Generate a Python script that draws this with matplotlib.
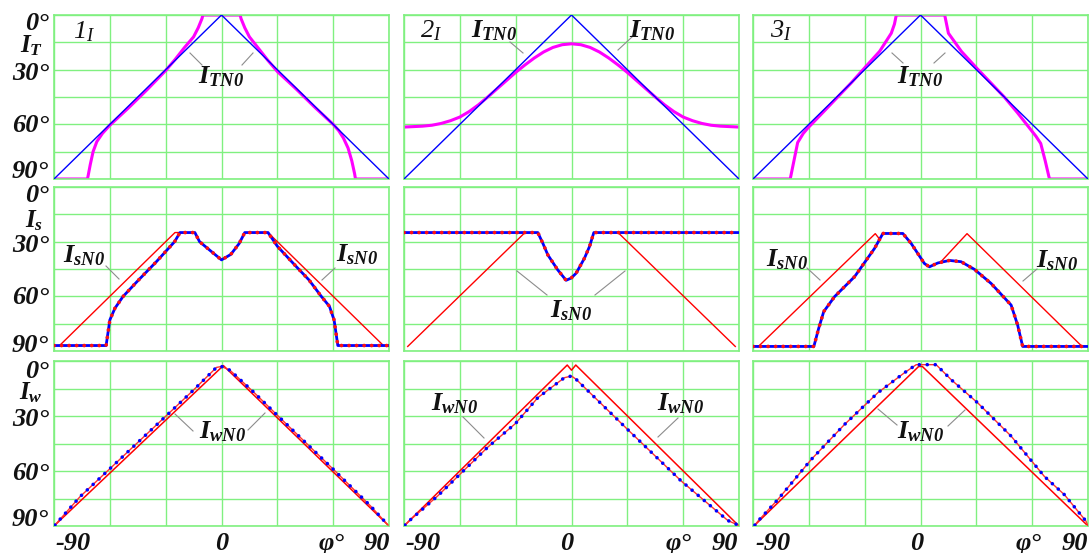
import numpy as np
import matplotlib
matplotlib.use("Agg")
import matplotlib.pyplot as plt
from matplotlib.lines import Line2D

plt.rcParams['mathtext.fontset'] = 'custom'
plt.rcParams['mathtext.it'] = 'Liberation Serif:italic:bold'
plt.rcParams['mathtext.rm'] = 'Liberation Serif:italic:bold'
plt.rcParams['mathtext.bf'] = 'Liberation Serif:italic:bold'
plt.rcParams['mathtext.sf'] = 'Liberation Serif:italic'

# ---- data (phi in degrees, angle in degrees, 0 at top) ----
# row 1: I_T
itn0_x = [-90, 0, 90]
itn0_y = [90, 0, 90]

it1_x = [-90, -72, -70.5, -69, -67, -64, -60, -50, -40, -30, -25, -20, -15, -12.5, -10.5, -10,
         10, 10.5, 12.5, 15, 20, 25, 30, 40, 50, 60, 63, 65.5, 68, 70, 71.5, 72, 90]
it1_y = [90, 90, 82, 75, 69.5, 65, 60.5, 51, 41, 30.5, 24.5, 18, 12, 7, 2, 0,
         0, 2, 7, 12, 18.5, 25, 31, 40.5, 50.5, 60, 63.5, 67.5, 73, 80, 87, 90, 90]

it2_x = [-90, -80, -75, -70, -65, -60, -55, -50, -45, -40, -35, -30, -25, -20, -15, -10, -5, 0,
         5, 10, 15, 20, 25, 30, 35, 40, 45, 50, 55, 60, 65, 70, 75, 80, 90]
it2_y = [61.5, 61, 60.5, 59.5, 58, 56, 53, 49.3, 45, 40.5, 36, 31.5, 27.4, 23.6, 20.3, 17.8, 16.3, 15.8,
         16.3, 17.8, 20.3, 23.6, 27.4, 31.5, 36, 40.5, 45, 49.3, 53, 56, 58, 59.5, 60.5, 61, 61.5]

it3_x = [-90, -70, -68, -66, -63, -60.5, -52, -44.5, -37, -30, -22, -15.7, -14, -13,
         13, 14, 15, 22, 30.5, 38, 45, 52, 59.3, 62, 64.6, 67, 69.3, 90]
it3_y = [90, 90, 80, 70, 65, 62, 53, 45, 37, 29, 20, 10, 5, 0,
         0, 5, 10, 20, 29.5, 37.5, 45, 53.5, 63, 66.5, 70.5, 80, 90, 90]

# row 2: I_s
is1_x = [-90, -62, -60, -57.3, -53, -45, -35, -25.2, -22.3, -14.3, -11.8, -6.4, 0, 5, 9.5, 12.5,
         25, 30, 40, 47, 53.6, 58, 60.5, 62.5, 90]
is1_y = [87, 87, 73, 66.6, 60.2, 51.5, 41, 30, 25, 25, 30, 34.6, 40, 37, 31, 25,
         25, 32.5, 43.5, 51, 60, 65.5, 73, 87, 87]
isn0_1_x = [-87, -25, -22.3, np.nan, 25, 87]
isn0_1_y = [87, 25, 25, np.nan, 25, 87]

is2_x = [-90, -18.1, -15.4, -12.7, -7.4, -2.9, -0.2, 2.5, 7, 9.7, 12, 90]
is2_y = [25, 25, 30.9, 37.3, 45.5, 51.2, 50, 47.3, 39, 32.6, 25, 25]
isn0_2_x = [-88, -25, np.nan, 25, 88]
isn0_2_y = [87.5, 25, np.nan, 25, 87.5]

is3_x = [-90, -57.3, -54.8, -52, -46.2, -35.4, -24.7, -20.2, -9.5, -5, 2.1, 4.8, 9.3, 15.6,
         21.8, 29, 37.9, 48.7, 52.2, 54.9, 90]
is3_y = [87.5, 87.5, 77.9, 68.4, 60.2, 49.2, 33.7, 25.5, 25.5, 31, 42, 43.8, 41.7, 40.3,
         41, 45.2, 52.9, 64.8, 75.8, 87.5, 87.5]
isn0_3_x = [-87.3, -24.3, -22, np.nan, 11, 25, 87]
isn0_3_y = [87.7, 25.6, 28.6, np.nan, 41, 25.6, 87.7]

# row 3: I_w
iw1_x = [-89.5, -76, -61.6, -43.8, -29.5, -15.2, -2.7, 0, 4.5, 17, 30.4, 45, 59.8, 73, 80, 89.5]
iw1_y = [89.5, 74, 60.3, 43.3, 29.7, 16, 3.5, 3, 5, 16.7, 30, 44.3, 58.8, 72, 79, 89.5]
iwn0_1_x = [-90, 1, 90]
iwn0_1_y = [90, 2.5, 90]

iw2_x = [-89.5, -87, -71.9, -45, -30, -18.1, -3.8, 0, 2.5, 30.3, 59, 84, 89.5]
iw2_y = [89.5, 87, 73.6, 47, 34, 20, 9.1, 8.2, 10, 37.5, 65.5, 87, 89.5]
iwn0_2_x = [-90, -2.3, 0, 2.3, 90]
iwn0_2_y = [90, 2.2, 5, 2.2, 90]

iw3_x = [-89, -87.3, -76.6, -58.7, -40.8, -22.9, -8.6, -2.3, 8.4, 16.5, 30.8, 48.7, 66.5, 77.3, 88.9, 90]
iw3_y = [89.5, 87.3, 75.5, 53.7, 34.6, 17.3, 6.4, 2, 2, 10.2, 22.9, 41, 62.9, 72.9, 87.3, 90]
iwn0_3_x = [-89, -1, 1, 90]
iwn0_3_y = [89.5, 3, 3, 90]

y_labels = ['0°', '30°', '60°', '90°']
x_labels = ['-90', '0', 'φ°', '90']
panel_names = ['1', '2', '3']
row_names = ['T', 's', 'w']

# ---- layout ----
W, H = 1089, 553
fig = plt.figure(figsize=(W / 100, H / 100), dpi=100)
fig.patch.set_facecolor('white')

col_left = [54, 404, 753]
col_w = 335
row_top = [15, 187, 361]
row_h = [164, 164, 165]
GRID = '#80f080'
BF = dict(family='Liberation Serif', weight='bold', style='italic', color='#111111')


def fx(x):
    return x / W


def fy(y):
    return 1 - y / H


def leader(x1, y1, x2, y2):
    fig.add_artist(Line2D([fx(x1), fx(x2)], [fy(y1), fy(y2)], transform=fig.transFigure,
                          color='#8c8c8c', lw=0.8))


axes = [[None] * 3 for _ in range(3)]
for r in range(3):
    for c in range(3):
        ax = fig.add_axes([fx(col_left[c]), fy(row_top[r] + row_h[r]), col_w / W, row_h[r] / H])
        ax.set_xlim(-90, 90)
        ax.set_ylim(90, 0)
        ax.set_xticks(np.arange(-90, 91, 30))
        ax.set_yticks(np.arange(0, 91, 15))
        ax.tick_params(length=0, labelbottom=False, labelleft=False)
        ax.grid(True, color=GRID, lw=1.0)
        ax.set_axisbelow(True)
        for sp in ax.spines.values():
            sp.set_color(GRID)
            sp.set_linewidth(1.2)
        axes[r][c] = ax

# row 1
for ax, (xs, ys) in zip(axes[0], [(it1_x, it1_y), (it2_x, it2_y), (it3_x, it3_y)]):
    ax.plot(itn0_x, itn0_y, color='#0000ff', lw=1.0, zorder=3)
    ax.plot(xs, ys, color='#ff00ff', lw=2.2, zorder=2)

# row 2: thick blue line with red dots on it
for ax, (xs, ys, nx, ny) in zip(axes[1], [(is1_x, is1_y, isn0_1_x, isn0_1_y),
                                          (is2_x, is2_y, isn0_2_x, isn0_2_y),
                                          (is3_x, is3_y, isn0_3_x, isn0_3_y)]):
    ax.plot(nx, ny, color='#ff0000', lw=1.0, zorder=2)
    ax.plot(xs, ys, color='#0000ff', lw=2.0, zorder=3)
    ax.plot(xs, ys, color='#ff1010', lw=2.7, zorder=4, linestyle=(0, (0.01, 2.0)),
            dash_capstyle='round')

# row 3: thin red line with blue dots on it
for ax, (xs, ys, nx, ny) in zip(axes[2], [(iw1_x, iw1_y, iwn0_1_x, iwn0_1_y),
                                          (iw2_x, iw2_y, iwn0_2_x, iwn0_2_y),
                                          (iw3_x, iw3_y, iwn0_3_x, iwn0_3_y)]):
    ax.plot(nx, ny, color='#ff0000', lw=1.1, zorder=2)
    ax.plot(xs, ys, color='#ff3030', lw=1.0, zorder=3)
    ax.plot(xs, ys, color='#0000ff', lw=2.6, zorder=4, linestyle=(0, (0.01, 2.2)),
            dash_capstyle='round')

# ---- y labels on the left ----
ylab_y = [[23, 73, 125, 171], [196, 246, 298, 345], [372, 420, 473, 520]]
name_y = [46, 221, 393]
for r in range(3):
    for lab, yy in zip(y_labels, ylab_y[r]):
        fig.text(fx(49), fy(yy), lab, ha='right', va='center', fontsize=19, **BF)
    fig.text(fx(43), fy(name_y[r]), r'$I_{%s}$' % row_names[r], ha='right', va='center',
             fontsize=18, color='#111111')

# ---- x labels on the bottom ----
xlab_pos = [(55, 222, 332, 390), (405, 567, 679, 738), (755, 917, 1029, 1088)]
for c in range(3):
    a, b, p, e = xlab_pos[c]
    fig.text(fx(a), fy(550), x_labels[0], ha='left', va='baseline', fontsize=19, **BF)
    fig.text(fx(b), fy(550), x_labels[1], ha='center', va='baseline', fontsize=19, **BF)
    fig.text(fx(p), fy(550), x_labels[2], ha='center', va='baseline', fontsize=19, **BF)
    fig.text(fx(e), fy(550), x_labels[3], ha='right', va='baseline', fontsize=19, **BF)

# ---- panel names ----
for c, (px, py) in enumerate([(84, 31), (431, 30), (781, 30)]):
    fig.text(fx(px), fy(py), r'$\mathsf{%s}_{\mathsf{I}}$' % panel_names[c], ha='center',
             va='center', fontsize=19, color='#111111')

# ---- curve annotations ----
def note(px, py, sub):
    fig.text(fx(px), fy(py), r'$I_{%s}$' % sub, ha='center', va='center', fontsize=19,
             color='#111111')


note(221, 76, 'TN0'); note(494, 30, 'TN0'); note(652, 30, 'TN0'); note(920, 76, 'TN0')
leader(190, 53, 202, 65); leader(253, 53, 242, 65)
leader(510, 42, 523, 53); leader(632, 37, 618, 50)
leader(892, 53, 903, 63); leader(945, 53, 934, 63)

note(84, 255, 'sN0'); note(357, 254, 'sN0'); note(571, 310, 'sN0')
note(787, 259, 'sN0'); note(1057, 260, 'sN0')
leader(106, 266, 119, 279); leader(322, 280, 335, 268)
leader(517, 271, 547, 295); leader(625, 271, 595, 295)
leader(807, 268, 820, 280); leader(1037, 269, 1023, 281)

note(223, 431, 'wN0'); note(455, 403, 'wN0'); note(681, 403, 'wN0'); note(921, 431, 'wN0')
leader(175, 414, 193, 431); leader(265, 413, 248, 430)
leader(463, 417, 484, 438); leader(678, 418, 658, 437)
leader(878, 409, 897, 425); leader(965, 410, 948, 426)

fig.savefig('out.png', dpi=100, facecolor='white')
